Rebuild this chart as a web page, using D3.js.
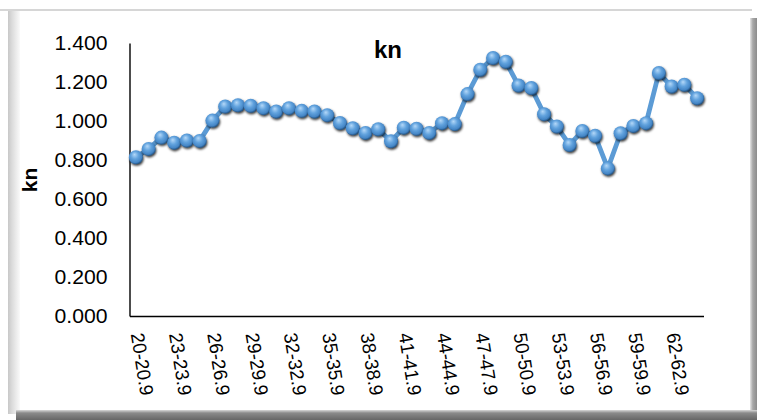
<!DOCTYPE html>
<html>
<head>
<meta charset="utf-8">
<script src="https://cdn.jsdelivr.net/npm/d3@7"></script>
<style>
  html, body { margin: 0; padding: 0; background: #fff; }
  svg { display: block; }
</style>
</head>
<body>
<svg id="chart" width="757" height="420"></svg>
<script>
// Age bands on the category axis
const categories = [
  "20-20.9", "21-21.9", "22-22.9", "23-23.9", "24-24.9", "25-25.9", "26-26.9",
  "27-27.9", "28-28.9", "29-29.9", "30-30.9", "31-31.9", "32-32.9", "33-33.9",
  "34-34.9", "35-35.9", "36-36.9", "37-37.9", "38-38.9", "39-39.9", "40-40.9",
  "41-41.9", "42-42.9", "43-43.9", "44-44.9", "45-45.9", "46-46.9", "47-47.9",
  "48-48.9", "49-49.9", "50-50.9", "51-51.9", "52-52.9", "53-53.9", "54-54.9",
  "55-55.9", "56-56.9", "57-57.9", "58-58.9", "59-59.9", "60-60.9", "61-61.9",
  "62-62.9", "63-63.9", "64-64.9"
];

// kn value for each age band
const knValues = [
  0.814, 0.857, 0.915, 0.889, 0.900, 0.898, 1.002, 1.074, 1.081, 1.078,
  1.066, 1.049, 1.066, 1.052, 1.049, 1.030, 0.990, 0.963, 0.939, 0.958,
  0.896, 0.966, 0.960, 0.939, 0.989, 0.984, 1.138, 1.263, 1.323, 1.304,
  1.182, 1.169, 1.035, 0.972, 0.877, 0.949, 0.924, 0.757, 0.937, 0.975,
  0.989, 1.246, 1.177, 1.186, 1.117
];

// Value-axis ticks and the labelled age bands (every third)
const yTicks = [0, 0.2, 0.4, 0.6, 0.8, 1.0, 1.2, 1.4];
const xTickLabels = categories.filter((d, i) => i % 3 === 0);

const chartTitle = "kn";
const yTitle = "kn";

const W = 757, H = 420;
const plot = { left: 129.5, right: 703.5, top: 43, bottom: 316 };

const svg = d3.select("#chart");
const defs = svg.append("defs");

// ---- frame gradients ----
const leftGrad = defs.append("linearGradient").attr("id", "leftEdge")
  .attr("x1", 0).attr("x2", 1).attr("y1", 0).attr("y2", 0);
leftGrad.append("stop").attr("offset", 0).attr("stop-color", "#c8c8c8");
leftGrad.append("stop").attr("offset", 0.35).attr("stop-color", "#dcdcdc");
leftGrad.append("stop").attr("offset", 1).attr("stop-color", "#fafafa");

const bottomGrad = defs.append("linearGradient").attr("id", "bottomEdge")
  .attr("x1", 0).attr("x2", 0).attr("y1", 0).attr("y2", 1);
bottomGrad.append("stop").attr("offset", 0).attr("stop-color", "#d8d8d8");
bottomGrad.append("stop").attr("offset", 0.3).attr("stop-color", "#8a8a8a");
bottomGrad.append("stop").attr("offset", 1).attr("stop-color", "#666");

const rightGrad = defs.append("linearGradient").attr("id", "rightEdge")
  .attr("x1", 0).attr("x2", 1).attr("y1", 0).attr("y2", 0);
rightGrad.append("stop").attr("offset", 0).attr("stop-color", "#e6e6e6");
rightGrad.append("stop").attr("offset", 0.4).attr("stop-color", "#a8a8a8");
rightGrad.append("stop").attr("offset", 1).attr("stop-color", "#8c8c8c");

// ---- marker look: shaded sphere with a soft shadow ----
const sphere = defs.append("radialGradient").attr("id", "sphere")
  .attr("cx", 0.45).attr("cy", 0.42).attr("r", 0.6)
  .attr("fx", 0.4).attr("fy", 0.3);
sphere.append("stop").attr("offset", 0).attr("stop-color", "#b4d8f8");
sphere.append("stop").attr("offset", 0.45).attr("stop-color", "#62a3de");
sphere.append("stop").attr("offset", 0.8).attr("stop-color", "#4586c6");
sphere.append("stop").attr("offset", 1).attr("stop-color", "#1c4a78");

const shadow = defs.append("filter").attr("id", "markerShadow")
  .attr("x", "-60%").attr("y", "-60%").attr("width", "220%").attr("height", "220%");
shadow.append("feDropShadow").attr("dx", 0.8).attr("dy", 1.5)
  .attr("stdDeviation", 1.1).attr("flood-color", "#000").attr("flood-opacity", 0.8);

const soften = defs.append("filter").attr("id", "soft")
  .attr("x", "-10%").attr("y", "-10%").attr("width", "120%").attr("height", "120%");
soften.append("feGaussianBlur").attr("stdDeviation", 0.45);

// ---- frame ----
svg.append("rect").attr("x", 0).attr("y", 0).attr("width", W).attr("height", H).attr("fill", "#fff");
svg.append("rect").attr("x", 0).attr("y", 9).attr("width", 752).attr("height", 2).attr("fill", "#d6d6d6");
svg.append("rect").attr("x", 8).attr("y", 11).attr("width", 12).attr("height", 403).attr("fill", "url(#leftEdge)");
svg.append("rect").attr("x", 750).attr("y", 18).attr("width", 7).attr("height", 396).attr("fill", "url(#rightEdge)");
svg.append("rect").attr("x", 16).attr("y", 410).attr("width", 741).attr("height", 10).attr("fill", "url(#bottomEdge)");

// ---- scales ----
const x = d3.scalePoint().domain(categories).range([plot.left, plot.right]).padding(0.5);
const y = d3.scaleLinear().domain([0, 1.4]).range([plot.bottom, plot.top]);

// ---- value axis ----
const yAxisG = svg.append("g").attr("transform", `translate(${plot.left},0)`)
  .call(d3.axisLeft(y).tickValues(yTicks).tickFormat(d3.format(".3f")).tickSize(0).tickPadding(22));
yAxisG.select(".domain").attr("stroke", "#000").attr("stroke-width", 1.4);
yAxisG.selectAll("text")
  .attr("font-family", "'Liberation Sans', Arial, sans-serif")
  .attr("font-size", 20)
  .attr("fill", "#000")
  .attr("textLength", 53)
  .attr("lengthAdjust", "spacingAndGlyphs");

// ---- category axis ----
const xAxisG = svg.append("g").attr("transform", `translate(0,${plot.bottom})`)
  .call(d3.axisBottom(x).tickValues(xTickLabels).tickSize(0));
xAxisG.select(".domain").attr("stroke", "#000").attr("stroke-width", 1.6);
xAxisG.selectAll("text")
  .attr("x", 0).attr("y", 0).attr("dy", "0.35em")
  .attr("transform", "translate(1,17) rotate(81)")
  .style("text-anchor", "start")
  .attr("font-family", "'Liberation Sans', Arial, sans-serif")
  .attr("font-size", 19)
  .attr("fill", "#000")
  .attr("textLength", 63)
  .attr("lengthAdjust", "spacingAndGlyphs");

// ---- titles ----
svg.append("text")
  .attr("x", 388).attr("y", 58)
  .attr("text-anchor", "middle")
  .attr("font-family", "'Liberation Sans', Arial, sans-serif")
  .attr("font-weight", "bold").attr("font-size", 24)
  .attr("fill", "#000")
  .text(chartTitle);

svg.append("text")
  .attr("transform", "translate(37,180) rotate(-90)")
  .attr("text-anchor", "middle")
  .attr("font-family", "'Liberation Sans', Arial, sans-serif")
  .attr("font-weight", "bold").attr("font-size", 21)
  .attr("fill", "#000")
  .text(yTitle);

// ---- series ----
const series = categories.map((c, i) => ({ c, v: knValues[i] }));
const line = d3.line().x(d => x(d.c)).y(d => y(d.v));

const seriesG = svg.append("g").attr("filter", "url(#soft)");
seriesG.append("path")
  .datum(series)
  .attr("d", line)
  .attr("fill", "none")
  .attr("stroke", "#5b9bd5")
  .attr("stroke-width", 4.8)
  .attr("stroke-linejoin", "round");

seriesG.selectAll("circle.marker")
  .data(series)
  .join("circle")
  .attr("class", "marker")
  .attr("cx", d => x(d.c))
  .attr("cy", d => y(d.v))
  .attr("r", 7)
  .attr("fill", "url(#sphere)")
  .attr("filter", "url(#markerShadow)");
</script>
</body>
</html>
